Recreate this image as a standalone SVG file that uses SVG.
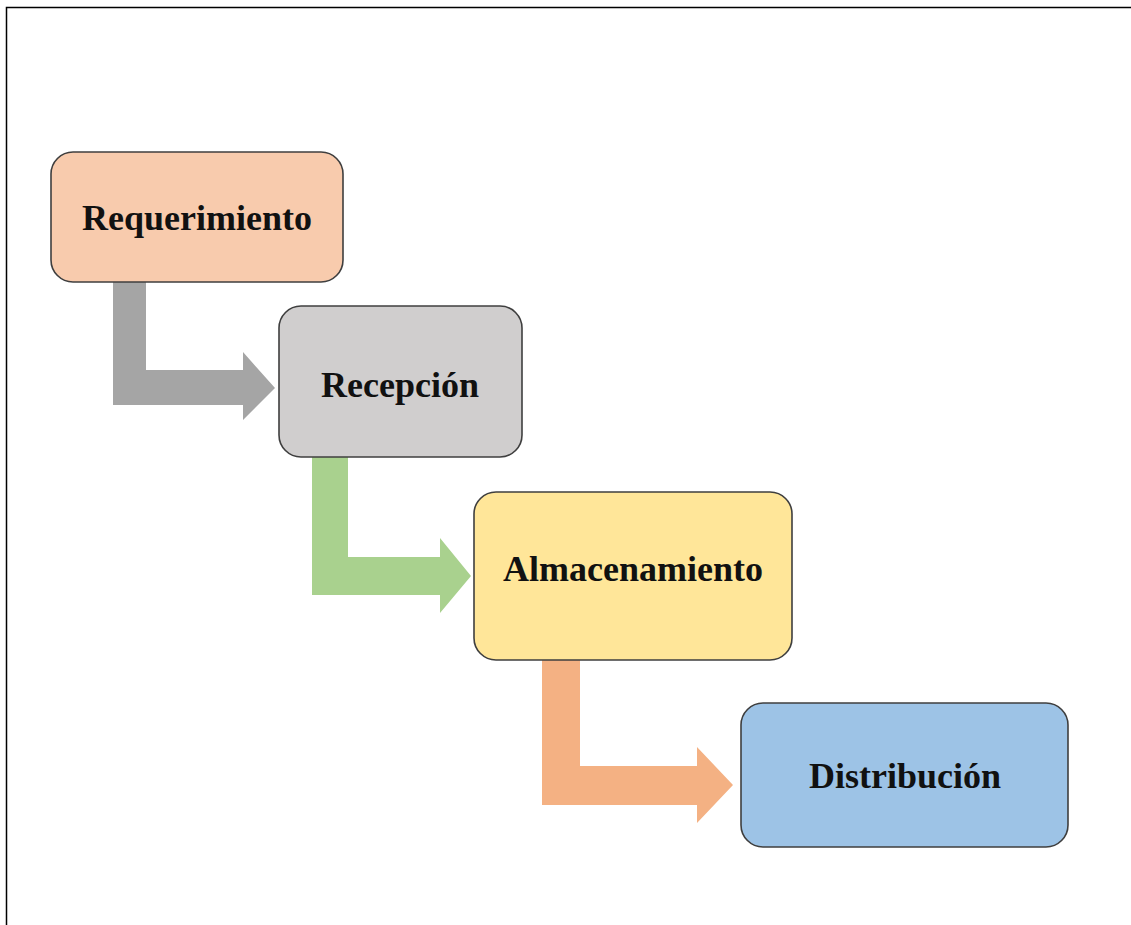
<svg xmlns="http://www.w3.org/2000/svg" width="1131" height="925" viewBox="0 0 1131 925">
<style>
.box{stroke:#3f3f3f;stroke-width:1.6}
.lbl{font-family:"Liberation Serif","Times New Roman",serif;font-weight:bold;font-size:36px;fill:#111;text-anchor:middle}
</style>
<rect width="1131" height="925" fill="#fff"/>
<path d="M6.5,925 V7.5 H1131" fill="none" stroke="#000" stroke-width="1.5"/>
<g id="connectors">
<path d="M113,282 H146 V370 H243 V352 L275,388 L243,420 V405 H113 Z" fill="#a5a5a5"/>
<path d="M312,457 H348 V557 H440 V538 L471,576 L440,613 V595 H312 Z" fill="#a9d18e"/>
<path d="M542,660 H580 V766 H697 V747 L733,785 L697,823 V805 H542 Z" fill="#f4b183"/>
</g>
<g id="requerimiento">
<rect class="box" x="51" y="152" width="292" height="130" rx="22" fill="#f8cbad"/>
<text class="lbl" x="197" y="230">Requerimiento</text>
</g>
<g id="recepcion">
<rect class="box" x="279" y="306" width="243" height="151" rx="22" fill="#d0cece"/>
<text class="lbl" x="400" y="397">Recepción</text>
</g>
<g id="almacenamiento">
<rect class="box" x="474" y="492" width="318" height="168" rx="22" fill="#ffe699"/>
<text class="lbl" x="633" y="581">Almacenamiento</text>
</g>
<g id="distribucion">
<rect class="box" x="741" y="703" width="327" height="144" rx="22" fill="#9dc3e6"/>
<text class="lbl" x="905" y="788">Distribución</text>
</g>
</svg>
